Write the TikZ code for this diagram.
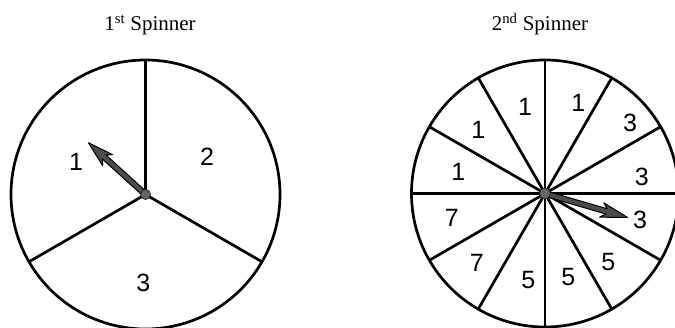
\documentclass[tikz,border=0pt]{standalone}
\usepackage{fontspec}
\setmainfont{Liberation Serif}
\newfontfamily\digitfont{Liberation Sans}
\begin{document}
\begin{tikzpicture}[x=1pt,y=1pt,
  rim/.style={line width=2.7pt},
  spoke/.style={line width=2.7pt},
  digit/.style={font=\digitfont\fontsize{25}{25}\selectfont, inner sep=0pt},
  title/.style={font=\fontsize{21}{21}\selectfont, anchor=base, inner sep=0pt},
  pointer/.style={fill=black!70, draw=black, line width=1pt, line join=round},
  hub/.style={fill=black!60, draw=black!85, line width=0.8pt}]
\useasboundingbox (0,0) rectangle (675,327);
% ---- 1st spinner ----
\coordinate (c1) at (145.5,132.5);
\node[title] (t1) at (150,296) {1\textsuperscript{st} Spinner};
\draw[rim] (c1) circle[radius=134.5];
\foreach \a in {90,210,330} \draw[spoke] (c1) -- ++(\a:134.5);
\node[digit] (a1) at (76,165.3) {1};
\node[digit] (a2) at (207,170.3) {2};
\node[digit] (a3) at (143.3,43.7) {3};
\begin{scope}[shift={(c1)}, rotate=137.8]
  \draw[pointer] (0,-2.7) -- (56,-2.7) -- (51,-7.5) -- (77,0) -- (51,7.5) -- (56,2.7) -- (0,2.7) -- cycle;
\end{scope}
\draw[hub] (c1) circle[radius=5];
% ---- 2nd spinner ----
\coordinate (c2) at (545,133.5);
\node[title] (t2) at (540,296) {2\textsuperscript{nd} Spinner};
\draw[rim] (c2) circle[radius=133.5];
\foreach \a in {0,30,...,330} \draw[spoke] (c2) -- ++(\a:133.5);
\node[digit] (b1) at (525,220.3) {1};
\node[digit] (b2) at (578.3,223.7) {1};
\node[digit] (b3) at (630,203.7) {3};
\node[digit] (b4) at (641.7,150.3) {3};
\node[digit] (b5) at (640,107) {3};
\node[digit] (b6) at (608.3,65.3) {5};
\node[digit] (b7) at (568.3,50.3) {5};
\node[digit] (b8) at (528.3,47) {5};
\node[digit] (b9) at (476.7,63.7) {7};
\node[digit] (b10) at (451.7,108.7) {7};
\node[digit] (b11) at (458.3,155.3) {1};
\node[digit] (b12) at (478.3,197) {1};
\begin{scope}[shift={(c2)}, rotate=-16.2]
  \draw[pointer] (0,-2.7) -- (64,-2.7) -- (59,-7.5) -- (86,0) -- (59,7.5) -- (64,2.7) -- (0,2.7) -- cycle;
\end{scope}
\draw[hub] (c2) circle[radius=5.5];
\end{tikzpicture}
\end{document}
